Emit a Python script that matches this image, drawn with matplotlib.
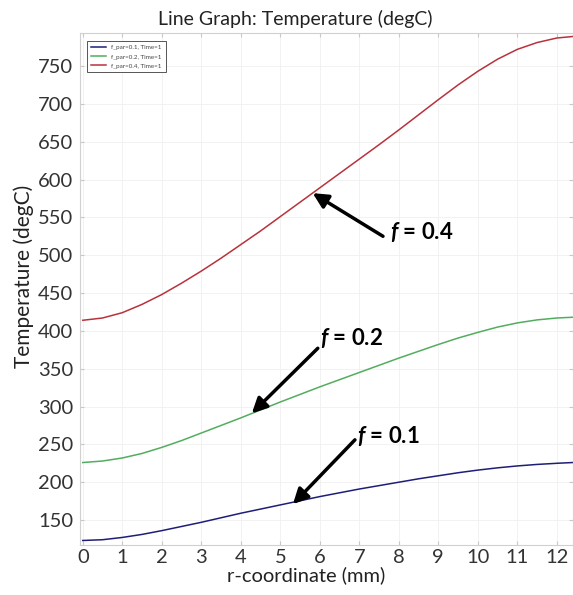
import matplotlib
matplotlib.use("Agg")
import matplotlib.pyplot as plt

plt.rcParams['font.family'] = ['Lato', 'DejaVu Sans']
plt.rcParams['mathtext.fontset'] = 'custom'
plt.rcParams['mathtext.bfit'] = 'Lato:italic:bold'
plt.rcParams['mathtext.it'] = 'Lato:italic:bold'

r_mm = [0, 0.5, 1, 1.5, 2, 2.5, 3, 3.5, 4, 4.5, 5, 5.5, 6, 6.5, 7, 7.5, 8,
        8.5, 9, 9.5, 10, 10.5, 11, 11.5, 12, 12.4]
temp_f01 = [123, 124, 127, 131, 136, 141.5, 147, 153, 159, 164.5, 170, 175.5,
            181, 186, 191, 195.5, 200, 204.5, 208.5, 212.5, 216, 219, 221.5,
            223.5, 225, 226]
temp_f02 = [226, 228, 232, 238, 246, 255, 265, 275, 285, 295.5, 306, 316,
            326, 335.5, 345, 354.5, 364, 373, 382, 390.5, 398, 405, 410.5,
            414.5, 417, 418]
temp_f04 = [414, 417, 424, 435, 448, 463, 479, 496, 514, 532, 551, 570, 589,
            608, 627, 646, 665.5, 685.5, 705.5, 725, 743, 759, 772, 781, 787,
            789]

labels = ["f_par=0.1, Time=1", "f_par=0.2, Time=1", "f_par=0.4, Time=1"]
colors = ["#1e1e78", "#52ad5e", "#b8323c"]

xticks = list(range(0, 13))
yticks = list(range(150, 751, 50))

fig = plt.figure(figsize=(5.73, 5.95), dpi=100)
ax = fig.add_axes([0.1396, 0.084, 0.8604, 0.8605])

for y, lab, c in zip([temp_f01, temp_f02, temp_f04], labels, colors):
    ax.plot(r_mm, y, color=c, lw=1.1, label=lab)

ax.set_xlim(-0.07, 12.41)
ax.set_ylim(117, 793.6)
ax.set_xticks(xticks)
ax.set_yticks(yticks)
ax.grid(True, color='#f0f0f0', lw=0.6)
ax.tick_params(direction='in', length=3, color='#c8c8c8', labelsize=14.5,
               labelcolor='#333333', top=True, right=True)
ax.tick_params(axis='x', pad=3)
ax.tick_params(axis='y', pad=5)
for s in ax.spines.values():
    s.set_color('#d0d0d0')
    s.set_linewidth(0.8)

ax.set_title("Line Graph: Temperature (degC)", fontsize=14, color='#222222',
             pad=6, x=0.436)
ax.set_xlabel("r-coordinate (mm)", fontsize=14.5, color='#222222', labelpad=0,
              x=0.458)
ax.set_ylabel("Temperature (degC)", fontsize=15, color='#222222', labelpad=3,
              y=0.525)

leg = ax.legend(loc='upper left', fontsize=4.5, frameon=True, fancybox=False,
                edgecolor='#555555', framealpha=1, borderpad=0.6,
                handlelength=2.5, labelspacing=0.6, bbox_to_anchor=(0.008, 0.99))
leg.get_frame().set_linewidth(0.7)
for t in leg.get_texts():
    t.set_color('#444444')

arrow = dict(arrowstyle='-|>,head_length=0.9,head_width=0.45', lw=2.5,
             color='black', shrinkA=0, shrinkB=0)
ann = [("0.4", (5.82, 582), (7.6, 525), (7.77, 531)),
       ("0.2", (4.28, 291), (5.95, 377), (6.0, 390)),
       ("0.1", (5.32, 171), (6.89, 256), (6.94, 261))]
for val, tip, tail, txt in ann:
    ax.annotate("", xy=tip, xytext=tail, arrowprops=arrow)
    ax.text(txt[0], txt[1], r"$\mathit{f}$ = " + val, fontsize=16,
            fontweight='bold', ha='left', va='center', color='black')

fig.savefig("out.png", dpi=100, facecolor='white')
